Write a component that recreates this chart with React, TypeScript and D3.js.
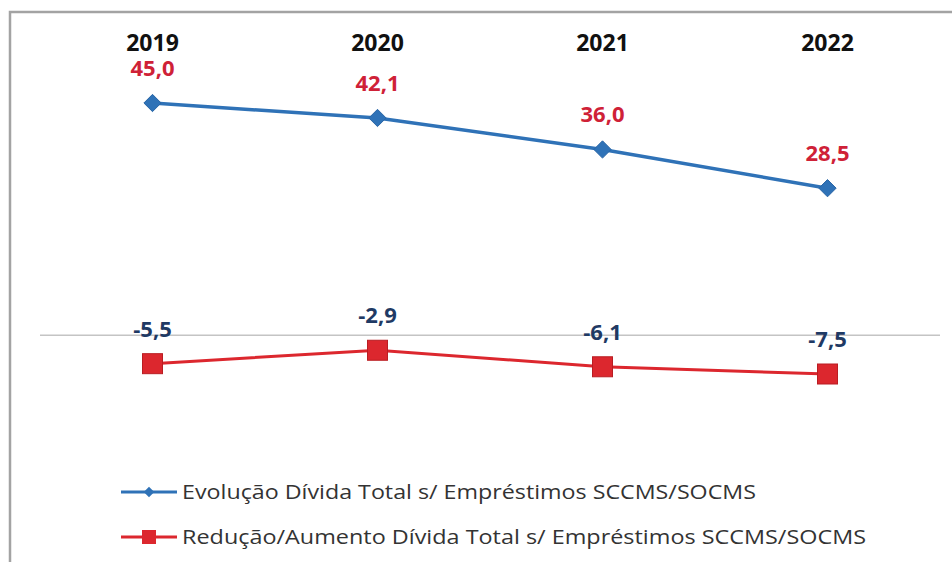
import React from "react";
import * as d3 from "d3";

const years = ["2019", "2020", "2021", "2022"];
const evolucao = [45.0, 42.1, 36.0, 28.5];
const reducao = [-5.5, -2.9, -6.1, -7.5];
const seriesNames = [
  "Evolução Dívida Total s/ Empréstimos SCCMS/SOCMS",
  "Redução/Aumento Dívida Total s/ Empréstimos SCCMS/SOCMS",
];
const legendWidths = [574, 684];

const fmt = (v: number) => v.toFixed(1).replace(".", ",");

export default function App() {
  const W = 952, H = 562;
  const x = d3.scalePoint<string>().domain(years).range([40, 940]).padding(0.5);
  const y = d3.scaleLinear().domain([-7.5, 45]).range([374, 103]);
  const line = d3.line<number>().x((_, i) => x(years[i])!).y((d) => y(d));
  const font = "'Open Sans', sans-serif";
  const blue = "#2f72b7";
  const red = "#dc272e";
  const diamond = d3.symbol().type(d3.symbolDiamond2).size(190)();
  const diamondSmall = d3.symbol().type(d3.symbolDiamond2).size(70)();

  return (
    <svg width={W} height={H} style={{ position: "absolute", left: 0, top: 0, background: "#fff" }} fontFamily={font}>
      <rect x={10} y={12} width={W} height={H} fill="#fff" stroke="#a3a3a3" strokeWidth={2.5} />
      <line x1={40} x2={940} y1={y(0)} y2={y(0)} stroke="#c4c4c4" strokeWidth={1.5} />
      {years.map((yr) => (
        <text key={yr} x={x(yr)} y={51} textAnchor="middle" fontSize={23} fontWeight={700} fill="#111">{yr}</text>
      ))}
      <path d={line(evolucao) ?? ""} fill="none" stroke={blue} strokeWidth={3.5} />
      <path d={line(reducao) ?? ""} fill="none" stroke={red} strokeWidth={3} />
      {evolucao.map((v, i) => (
        <g key={"e" + i}>
          <path d={diamond} transform={`translate(${x(years[i])},${y(v)})`} fill={blue} stroke="#2a66a6" strokeWidth={1} />
          <text x={x(years[i])} y={y(v) - 27} textAnchor="middle" fontSize={22} fontWeight={700} fill="#cf2137">{fmt(v)}</text>
        </g>
      ))}
      {reducao.map((v, i) => (
        <g key={"r" + i}>
          <rect x={x(years[i])! - 10} y={y(v) - 10} width={20} height={20} fill={red} stroke="#b91d22" strokeWidth={1} />
          <text x={x(years[i])} y={y(v) - 27} textAnchor="middle" fontSize={22} fontWeight={700} fill="#1f3a64">{fmt(v)}</text>
        </g>
      ))}
      {seriesNames.map((name, i) => {
        const ly = i === 0 ? 492 : 537;
        const col = i === 0 ? blue : red;
        return (
          <g key={name}>
            <line x1={121} x2={177} y1={ly} y2={ly} stroke={col} strokeWidth={3} />
            {i === 0 ? (
              <path d={diamondSmall} transform={`translate(149,${ly})`} fill={blue} />
            ) : (
              <rect x={142} y={ly - 7} width={14} height={14} fill={red} />
            )}
            <text x={182} y={ly + 7} fontSize={20} fill="#333" textLength={legendWidths[i]} lengthAdjust="spacingAndGlyphs">{name}</text>
          </g>
        );
      })}
    </svg>
  );
}
